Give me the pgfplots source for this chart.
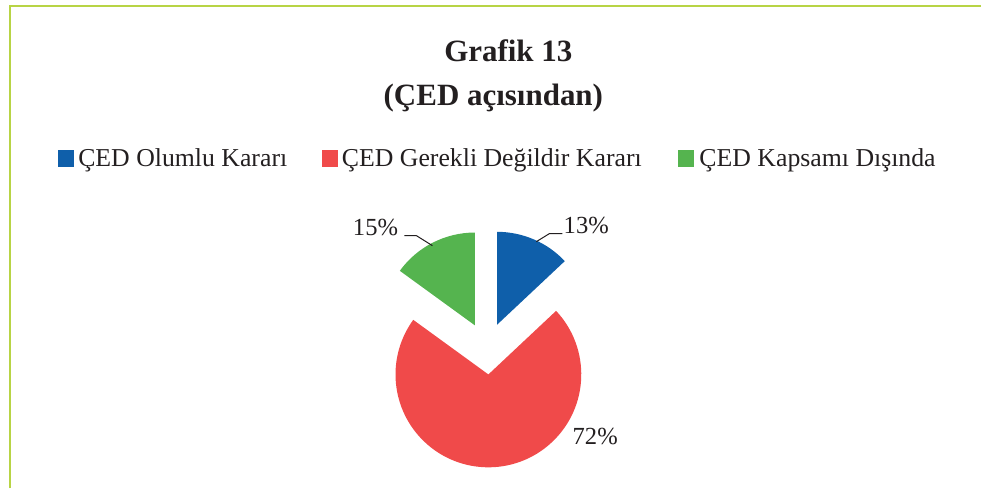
\documentclass[border=0pt]{standalone}
\usepackage{pgfplots}
\pgfplotsset{compat=1.18}
\usepackage{fontspec}
\setmainfont{Liberation Serif}
\definecolor{cblue}{HTML}{0F5FAA}
\definecolor{cred}{HTML}{F04A4A}
\definecolor{cgreen}{HTML}{55B44F}
\definecolor{cborder}{HTML}{B8D445}
\definecolor{ctext}{HTML}{231F20}
\begin{document}
\begin{tikzpicture}
\begin{axis}[
  x=0.5pt, y=0.5pt,
  xmin=0, xmax=982, ymin=0, ymax=489,
  hide axis, clip=false,
  scale only axis,
]
% canvas frame
\path (axis cs:0,0) rectangle (axis cs:982,489);
% border
\draw[cborder, line width=1.3pt] (axis cs:10,0) -- (axis cs:10,483) -- (axis cs:982,483);
% title
\node[anchor=base, font=\fontsize{15.5}{18}\selectfont\bfseries, text=ctext] at (axis cs:509,427) {Grafik 13};
\node[anchor=base, font=\fontsize{15.5}{18}\selectfont\bfseries, text=ctext] at (axis cs:494,383) {(ÇED açısından)};
% legend
\fill[cblue] (axis cs:58,322) rectangle (axis cs:74,339);
\node[anchor=base west, inner sep=0pt, font=\fontsize{12.9}{15}\selectfont, text=ctext] at (axis cs:78,322) {ÇED Olumlu Kararı};
\fill[cred] (axis cs:322,322) rectangle (axis cs:338,339);
\node[anchor=base west, inner sep=0pt, font=\fontsize{12.9}{15}\selectfont, text=ctext] at (axis cs:342,322) {ÇED Gerekli Değildir Kararı};
\fill[cgreen] (axis cs:679,322) rectangle (axis cs:695,339);
\node[anchor=base west, inner sep=0pt, font=\fontsize{12.9}{15}\selectfont, text=ctext] at (axis cs:700,322) {ÇED Kapsamı Dışında};
% pie: values 13, 72, 15 ; centre (487.4,140), radius 93 px, explode 26 px
\def\cx{487.4}\def\cy{140}\def\R{93}\def\E{26}
\def\cumul{0}
\foreach \v/\col in {13/cblue,72/cred,15/cgreen}{
  \pgfmathsetmacro{\a}{90-3.6*\cumul}
  \pgfmathsetmacro{\b}{90-3.6*(\cumul+\v)}
  \pgfmathsetmacro{\m}{(\a+\b)/2}
  \pgfmathsetmacro{\ox}{\cx+\E*cos(\m)}
  \pgfmathsetmacro{\oy}{\cy+\E*sin(\m)}
  \pgfmathsetmacro{\px}{\ox+\R*cos(\a)}
  \pgfmathsetmacro{\py}{\oy+\R*sin(\a)}
  \edef\temp{\noexpand\fill[\col] (axis cs:\ox,\oy) -- (axis cs:\px,\py) arc[start angle=\a, end angle=\b, radius=46.5pt] -- cycle;}
  \temp
  \pgfmathsetmacro{\newc}{\cumul+\v}
  \global\let\cumul\newc
}
% leader lines
\draw[ctext, line width=0.5pt] (axis cs:563,255) -- (axis cs:550,255) -- (axis cs:537,247);
\draw[ctext, line width=0.5pt] (axis cs:405,253) -- (axis cs:417,253) -- (axis cs:433,243);
% data labels
\node[font=\fontsize{12.3}{14}\selectfont, text=ctext, inner sep=0pt] at (axis cs:587,263) {13\%};
\node[font=\fontsize{12.3}{14}\selectfont, text=ctext, inner sep=0pt] at (axis cs:376,261) {15\%};
\node[font=\fontsize{12.3}{14}\selectfont, text=ctext, inner sep=0pt] at (axis cs:596,52) {72\%};
\end{axis}
\end{tikzpicture}
\end{document}
